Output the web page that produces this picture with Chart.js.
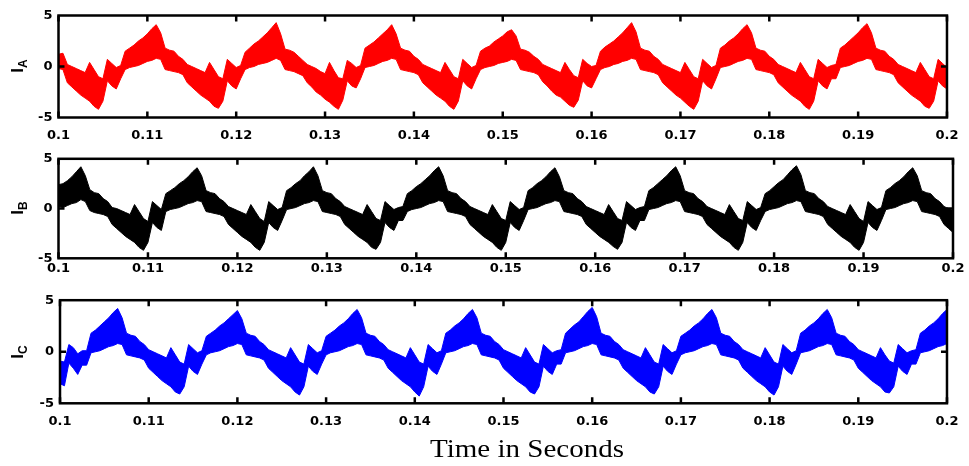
<!DOCTYPE html>
<html>
<head>
<meta charset="utf-8">
<script src="https://cdn.jsdelivr.net/npm/chart.js@4.4.1/dist/chart.umd.min.js"></script>
<style>
  body { margin: 0; background: #fff; }
  #wrap { position: relative; width: 969px; height: 466px; overflow: hidden; }
  canvas { position: absolute; left: 0; }
  .ylab { position: absolute; width: 60px; height: 24px; line-height: 24px; text-align: center;
          font-family: "Liberation Sans", Arial, sans-serif; font-weight: bold; font-size: 17px;
          transform: rotate(-90deg); color: #000; }
  .ylab sub { font-size: 12px; vertical-align: -4px; }
  #xtitle { position: absolute; left: 327px; top: 435px; width: 400px; text-align: center;
            font-family: "Liberation Serif", "Times New Roman", serif; font-size: 25px; color: #000;
            transform: scaleX(1.16); }
</style>
</head>
<body>
<div id="wrap">
  <canvas id="ia" width="969" height="145" style="top:0px"></canvas>
  <canvas id="ib" width="969" height="135" style="top:145px"></canvas>
  <canvas id="ic" width="969" height="186" style="top:280px"></canvas>
  <div class="ylab" style="left:-12px; top:54px">I<sub>A</sub></div>
  <div class="ylab" style="left:-12px; top:196px">I<sub>B</sub></div>
  <div class="ylab" style="left:-12px; top:340px">I<sub>C</sub></div>
  <div id="xtitle">Time in Seconds</div>
</div>
<script>
// sample grid: 0.1 s .. 0.2 s every 0.5 ms
const tStart = 0.1;
const tStep = 0.0005;

const xTicks = [0.1, 0.11, 0.12, 0.13, 0.14, 0.15, 0.16, 0.17, 0.18, 0.19, 0.2];
const yTicks = [-5, 0, 5];

// upper / lower edge of the switching band
const redUpper = [
  1.2,1.3,0.2,0.0,-0.2,-0.4,-0.6,0.4,-0.3,-1.0,-1.2,0.7,0.3,-0.1,0.1,
  1.5,1.8,2.1,2.5,2.8,3.2,3.7,4.1,3.3,1.8,1.6,1.5,1.0,0.7,0.2,0.0,-0.2,-0.4,-0.6,0.4,-0.3,-1.0,-1.2,0.7,0.3,-0.1,0.1,
  1.4,1.8,2.2,2.5,2.9,3.3,3.8,4.3,3.2,1.7,1.6,1.4,1.0,0.6,0.2,0.0,-0.2,-0.5,-0.7,0.4,-0.4,-1.1,-1.2,0.6,0.3,-0.1,0.1,
  1.8,2.1,2.4,2.8,3.2,3.6,4.1,3.2,1.8,1.6,1.5,1.0,0.7,0.2,0.0,-0.2,-0.4,-0.6,0.4,-0.3,-1.0,-1.2,0.7,0.3,-0.1,0.1,
  1.5,1.8,2.0,2.4,2.7,3.0,3.4,3.6,3.0,1.7,1.6,1.4,1.0,0.7,0.2,0.0,-0.2,-0.4,-0.6,0.4,-0.3,-0.9,-1.1,0.7,0.3,0.0,0.1,
  1.5,1.9,2.2,2.5,2.9,3.3,3.8,4.3,3.4,1.8,1.6,1.5,1.0,0.7,0.2,0.0,-0.2,-0.4,-0.6,0.4,-0.3,-1.0,-1.2,0.7,0.3,-0.1,0.1,
  1.8,2.1,2.5,2.8,3.2,3.7,4.1,3.3,1.8,1.6,1.5,1.0,0.7,0.2,0.0,-0.2,-0.4,-0.6,0.4,-0.3,-1.0,-1.2,0.7,0.3,-0.1,0.1,0.2,
  1.8,2.1,2.5,2.9,3.3,3.8,4.2,3.3,1.8,1.6,1.5,1.0,0.7,0.2,0.0,-0.2,-0.4,-0.6,0.4,-0.3,-1.0,-1.2,0.7,0.3,-0.1
];
const redLower = [
  -0.2,-0.3,-1.6,-2.0,-2.4,-2.8,-3.1,-3.4,-3.9,-4.2,-3.4,-1.4,-1.9,-2.2,-1.2,
  -0.3,-0.1,0.0,0.1,0.3,0.5,0.6,0.8,0.7,-0.3,-0.4,-0.5,-0.6,-0.8,-1.6,-2.0,-2.4,-2.8,-3.1,-3.4,-3.9,-4.1,-3.4,-1.4,-1.9,-2.2,-1.2,
  -0.3,-0.1,0.0,0.2,0.3,0.4,0.6,0.8,0.6,-0.3,-0.4,-0.5,-0.7,-0.9,-1.6,-2.0,-2.5,-2.8,-3.2,-3.5,-3.9,-4.2,-3.3,-1.4,-1.9,-2.1,-1.2,
  -0.1,0.0,0.1,0.3,0.5,0.6,0.8,0.7,-0.3,-0.4,-0.5,-0.6,-0.8,-1.6,-2.0,-2.4,-2.8,-3.1,-3.4,-3.9,-4.2,-3.4,-1.4,-1.9,-2.2,-1.2,
  -0.3,-0.1,0.0,0.1,0.3,0.4,0.5,0.7,0.6,-0.3,-0.4,-0.5,-0.6,-0.8,-1.5,-1.9,-2.4,-2.8,-3.0,-3.4,-3.8,-4.0,-3.3,-1.4,-1.9,-2.1,-1.2,
  -0.3,-0.1,0.0,0.2,0.3,0.5,0.6,0.8,0.7,-0.3,-0.4,-0.5,-0.6,-0.8,-1.6,-2.0,-2.4,-2.8,-3.1,-3.5,-3.9,-4.2,-3.4,-1.4,-1.9,-2.2,-1.2,
  -0.1,0.0,0.1,0.3,0.5,0.6,0.8,0.7,-0.3,-0.4,-0.5,-0.6,-0.8,-1.6,-2.0,-2.4,-2.8,-3.1,-3.4,-3.9,-4.2,-3.4,-1.4,-1.9,-2.2,-1.2,-1.2,
  -0.1,0.0,0.1,0.3,0.5,0.6,0.8,0.7,-0.3,-0.4,-0.5,-0.6,-0.8,-1.6,-2.0,-2.4,-2.8,-3.1,-3.4,-3.9,-4.1,-3.4,-1.4,-1.9,-2.2
];

const blackUpper = [
  2.4,2.5,2.8,3.2,3.7,4.2,3.3,1.9,1.6,1.5,1.0,0.7,0.1,0.0,-0.2,-0.4,-0.6,0.4,-0.3,-1.0,-1.3,0.7,0.3,-0.1,
  1.5,1.8,2.1,2.5,2.8,3.2,3.7,4.1,3.3,1.8,1.6,1.5,1.0,0.7,0.2,0.0,-0.2,-0.4,-0.6,0.4,-0.3,-1.0,-1.3,0.7,0.3,-0.1,0.1,
  1.8,2.1,2.5,2.8,3.3,3.7,4.2,3.3,1.8,1.6,1.5,1.0,0.7,0.2,0.0,-0.2,-0.4,-0.6,0.4,-0.3,-1.0,-1.2,0.7,0.3,-0.1,0.1,0.2,
  1.5,1.8,2.2,2.5,2.9,3.3,3.8,4.2,3.3,1.8,1.6,1.5,1.0,0.7,0.2,0.0,-0.2,-0.4,-0.6,0.4,-0.3,-1.0,-1.2,0.7,0.3,-0.1,0.1,
  1.8,2.1,2.5,2.8,3.2,3.7,4.1,3.2,1.8,1.6,1.5,1.0,0.7,0.2,0.0,-0.2,-0.4,-0.6,0.4,-0.3,-1.0,-1.2,0.7,0.3,-0.1,0.1,0.2,
  1.8,2.1,2.5,2.9,3.3,3.8,4.2,3.3,1.8,1.6,1.5,1.0,0.7,0.2,0.0,-0.2,-0.4,-0.6,0.4,-0.3,-1.0,-1.2,0.7,0.3,-0.1,0.1,
  1.5,1.8,2.2,2.6,2.9,3.4,3.9,4.3,3.4,1.8,1.6,1.5,1.0,0.7,0.2,0.0,-0.2,-0.4,-0.6,0.4,-0.3,-1.0,-1.3,0.7,0.3,-0.1,0.1,
  1.8,2.1,2.5,2.8,3.2,3.7,4.1,3.3,1.8,1.6,1.5,1.0,0.7,0.2,0.0,-0.2
];
const blackLower = [
  0.2,0.1,0.3,0.5,0.6,0.9,0.7,-0.2,-0.4,-0.5,-0.6,-0.8,-1.6,-2.0,-2.4,-2.8,-3.1,-3.4,-3.9,-4.2,-3.4,-1.4,-1.9,-2.2,
  -0.3,-0.1,0.0,0.1,0.3,0.5,0.6,0.8,0.7,-0.3,-0.4,-0.5,-0.6,-0.8,-1.6,-2.0,-2.4,-2.8,-3.1,-3.4,-3.9,-4.2,-3.4,-1.4,-1.9,-2.2,-1.2,
  -0.1,0.0,0.1,0.3,0.5,0.6,0.8,0.7,-0.3,-0.4,-0.5,-0.6,-0.8,-1.6,-2.0,-2.4,-2.8,-3.1,-3.4,-3.9,-4.1,-3.4,-1.4,-1.9,-2.2,-1.2,-1.2,
  -0.3,-0.1,0.0,0.1,0.3,0.5,0.6,0.8,0.7,-0.3,-0.4,-0.5,-0.6,-0.8,-1.6,-2.0,-2.4,-2.8,-3.1,-3.4,-3.9,-4.2,-3.4,-1.4,-1.9,-2.2,-1.2,
  -0.1,0.0,0.1,0.3,0.5,0.6,0.8,0.7,-0.3,-0.4,-0.5,-0.6,-0.8,-1.6,-2.0,-2.4,-2.8,-3.1,-3.4,-3.8,-4.1,-3.4,-1.4,-1.9,-2.2,-1.2,-1.2,
  -0.1,0.0,0.1,0.3,0.5,0.6,0.8,0.7,-0.3,-0.4,-0.5,-0.6,-0.8,-1.6,-2.0,-2.4,-2.8,-3.1,-3.4,-3.9,-4.2,-3.4,-1.4,-1.9,-2.2,-1.2,
  -0.3,-0.1,0.0,0.1,0.3,0.5,0.6,0.8,0.7,-0.3,-0.4,-0.5,-0.6,-0.8,-1.6,-2.0,-2.4,-2.8,-3.1,-3.4,-3.9,-4.2,-3.4,-1.4,-1.9,-2.2,-1.2,
  -0.1,0.0,0.1,0.3,0.5,0.6,0.8,0.7,-0.3,-0.4,-0.5,-0.6,-0.8,-1.6,-2.0,-2.4
];

const blueUpper = [
  -0.9,-1.0,0.7,0.4,-0.2,0.1,0.1,
  1.8,2.1,2.5,2.9,3.3,3.8,4.2,3.3,1.8,1.6,1.5,1.0,0.7,0.2,0.0,-0.2,-0.4,-0.6,0.4,-0.3,-1.0,-1.2,0.7,0.3,-0.1,0.1,
  1.5,1.8,2.1,2.5,2.8,3.2,3.6,4.0,3.2,1.8,1.6,1.5,1.0,0.7,0.2,0.0,-0.2,-0.4,-0.6,0.4,-0.3,-1.0,-1.2,0.7,0.3,-0.1,0.1,
  1.5,1.8,2.1,2.5,2.8,3.2,3.7,4.1,3.3,1.8,1.6,1.5,1.0,0.7,0.2,0.0,-0.2,-0.4,-0.6,0.4,-0.3,-1.0,-1.2,0.7,0.3,-0.1,0.1,
  1.8,2.1,2.5,2.8,3.2,3.7,4.1,3.3,1.8,1.6,1.5,1.0,0.7,0.2,0.0,-0.2,-0.4,-0.6,0.4,-0.3,-1.0,-1.2,0.7,0.3,-0.1,0.1,0.2,
  1.8,2.2,2.6,2.9,3.4,3.9,4.3,3.4,1.8,1.6,1.5,1.0,0.7,0.2,0.0,-0.2,-0.4,-0.6,0.4,-0.3,-1.0,-1.2,0.7,0.3,-0.1,0.1,
  1.5,1.8,2.1,2.5,2.8,3.2,3.7,4.1,3.3,1.8,1.6,1.5,1.0,0.7,0.2,0.0,-0.2,-0.4,-0.6,0.4,-0.3,-1.0,-1.2,0.7,0.3,-0.1,0.1,
  1.8,2.1,2.5,2.8,3.2,3.7,4.1,3.3,1.8,1.6,1.5,1.0,0.7,0.2,0.0,-0.2,-0.4,-0.6,0.4,-0.3,-0.9,-1.1,0.7,0.3,-0.1,0.1,0.2,
  1.8,2.1,2.5,2.8,3.2,3.7,4.1
];
const blueLower = [
  -3.1,-3.3,-1.1,-1.6,-2.2,-1.3,-1.3,
  -0.1,0.0,0.1,0.3,0.5,0.6,0.8,0.7,-0.3,-0.4,-0.5,-0.6,-0.8,-1.6,-2.0,-2.4,-2.8,-3.1,-3.4,-3.9,-4.1,-3.4,-1.4,-1.9,-2.2,-1.2,
  -0.3,-0.1,0.0,0.1,0.3,0.5,0.6,0.8,0.7,-0.3,-0.4,-0.5,-0.6,-0.8,-1.6,-2.0,-2.4,-2.8,-3.1,-3.4,-3.9,-4.2,-3.4,-1.4,-1.9,-2.2,-1.2,
  -0.3,-0.1,0.0,0.1,0.3,0.5,0.6,0.8,0.7,-0.3,-0.4,-0.5,-0.6,-0.8,-1.6,-2.0,-2.4,-2.8,-3.1,-3.4,-3.9,-4.3,-3.4,-1.4,-1.9,-2.2,-1.2,
  -0.1,0.0,0.1,0.3,0.5,0.6,0.8,0.7,-0.3,-0.4,-0.5,-0.6,-0.8,-1.6,-2.0,-2.4,-2.8,-3.1,-3.4,-3.9,-4.1,-3.4,-1.4,-1.9,-2.2,-1.2,-1.2,
  -0.1,0.0,0.1,0.3,0.5,0.6,0.8,0.7,-0.3,-0.4,-0.5,-0.6,-0.8,-1.6,-2.0,-2.4,-2.8,-3.1,-3.4,-3.9,-4.1,-3.4,-1.4,-1.9,-2.2,-1.2,
  -0.3,-0.1,0.0,0.1,0.3,0.5,0.6,0.8,0.7,-0.3,-0.4,-0.5,-0.6,-0.8,-1.6,-2.0,-2.4,-2.8,-3.1,-3.4,-3.9,-4.2,-3.4,-1.4,-1.9,-2.2,-1.2,
  -0.1,0.0,0.1,0.3,0.5,0.6,0.8,0.7,-0.3,-0.4,-0.5,-0.6,-0.8,-1.6,-2.0,-2.4,-2.8,-3.1,-3.4,-3.9,-4.0,-3.4,-1.4,-1.9,-2.2,-1.2,-1.2,
  -0.1,0.0,0.1,0.3,0.5,0.6,0.8
];

function toPoints(arr){
    return arr.map(function(v, i){ return {x: tStart + i * tStep, y: v}; });
}

// box round the plot and the short inward ticks
const frameBox = {
    id: 'frameBox',
    afterDatasetsDraw(chart){
        const ctx = chart.ctx;
        const a = chart.chartArea;
        const xs = chart.scales.x, ys = chart.scales.y;
        ctx.save();
        ctx.strokeStyle = '#000';
        ctx.lineWidth = 2.5;
        ctx.strokeRect(a.left, a.top, a.right - a.left, a.bottom - a.top);
        ctx.beginPath();
        xTicks.forEach(function(v){
            const px = xs.getPixelForValue(v);
            ctx.moveTo(px, a.top); ctx.lineTo(px, a.top + 6);
            ctx.moveTo(px, a.bottom); ctx.lineTo(px, a.bottom - 6);
        });
        const py = ys.getPixelForValue(0);
        ctx.moveTo(a.left, py); ctx.lineTo(a.left + 6, py);
        ctx.moveTo(a.right, py); ctx.lineTo(a.right - 6, py);
        ctx.stroke();
        ctx.restore();
    }
};

const tickFont = {family: 'DejaVu Sans', weight: 'bold', size: 13};

function makeChart(id, upper, lower, color, pad, xHeight, yWidth, xPad){
    return new Chart(document.getElementById(id), {
        type: 'line',
        data: {
            datasets: [
                {data: toPoints(lower), borderColor: color, borderWidth: 1, pointRadius: 0, fill: false},
                {data: toPoints(upper), borderColor: color, borderWidth: 1, pointRadius: 0,
                 backgroundColor: color, fill: '-1'}
            ]
        },
        options: {
            responsive: false,
            animation: false,
            devicePixelRatio: 1,
            layout: {padding: pad},
            plugins: {legend: {display: false}, tooltip: {enabled: false}},
            elements: {line: {tension: 0}},
            scales: {
                x: {
                    type: 'linear', min: 0.1, max: 0.2,
                    grid: {display: false, drawTicks: false},
                    border: {display: false},
                    afterBuildTicks: function(s){ s.ticks = xTicks.map(function(v){ return {value: v}; }); },
                    ticks: {padding: xPad, color: '#000', font: tickFont, maxRotation: 0, autoSkip: false,
                            callback: function(v){ return String(Number(v.toFixed(2))); }},
                    afterFit: function(s){ s.height = xHeight; }
                },
                y: {
                    min: -5, max: 5,
                    grid: {display: false, drawTicks: false},
                    border: {display: false},
                    afterBuildTicks: function(s){ s.ticks = yTicks.map(function(v){ return {value: v}; }); },
                    ticks: {padding: 6, color: '#000', font: tickFont,
                            callback: function(v){ return String(v); }},
                    afterFit: function(s){ s.width = yWidth; }
                }
            }
        },
        plugins: [frameBox]
    });
}

makeChart('ia', redUpper, redLower, '#ff0000', {left: 0, right: 16, top: 15.5, bottom: 0}, 27.5, 58.5, 10.5);
makeChart('ib', blackUpper, blackLower, '#000000', {left: 0, right: 16, top: 11.7, bottom: 0}, 21.7, 58.5, 3);
makeChart('ic', blueUpper, blueLower, '#0000ff', {left: 0, right: 15, top: 20.2, bottom: 0}, 62.7, 60, 10.5);
</script>
</body>
</html>
